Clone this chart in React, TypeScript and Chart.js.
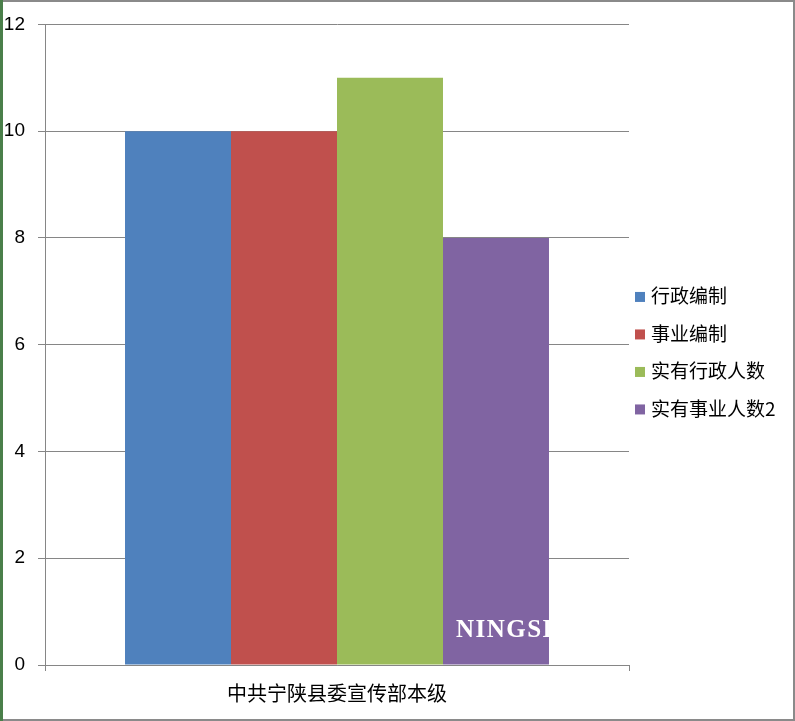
import React, { useEffect, useRef } from "react";
import { Chart, registerables } from "chart.js";

Chart.register(...registerables);

const categories = ["中共宁陕县委宣传部本级"];
const seriesNames = ["行政编制", "事业编制", "实有行政人数", "实有事业人数2"];
const seriesValues = [[10], [10], [11], [8]];
const seriesColors = ["#4F81BD", "#C0504D", "#9BBB59", "#8064A2"];
const yMin = 0;
const yMax = 12;
const yStep = 2;
const watermark = "NINGSHAN";

const W = 795;
const H = 721;

export default function App() {
  const ref = useRef<HTMLCanvasElement | null>(null);

  useEffect(() => {
    const canvas = ref.current;
    if (!canvas) return;

    const legendPlugin = {
      id: "customLegend",
      afterDraw(chart: any) {
        const ctx = chart.ctx;
        const ca = chart.chartArea;
        const mid = (ca.top + ca.bottom) / 2 + 8.5;
        const spacing = 37.5;
        const n = seriesNames.length;
        ctx.save();
        ctx.font = '19px "Noto Sans CJK SC", sans-serif';
        ctx.textBaseline = "middle";
        ctx.textAlign = "left";
        for (let i = 0; i < n; i++) {
          const cy = mid + (i - (n - 1) / 2) * spacing;
          ctx.fillStyle = seriesColors[i];
          ctx.fillRect(ca.right + 6, cy - 5, 10, 10);
          ctx.fillStyle = "#000";
          ctx.fillText(seriesNames[i], ca.right + 22, cy - 1);
        }
        ctx.restore();
      },
    };

    const watermarkPlugin = {
      id: "watermark",
      afterDatasetsDraw(chart: any) {
        const meta = chart.getDatasetMeta(seriesNames.length - 1);
        const el = meta.data[0];
        if (!el) return;
        const { x, y, base, width } = el.getProps(["x", "y", "base", "width"], true);
        const left = x - width / 2;
        const ctx = chart.ctx;
        ctx.save();
        ctx.beginPath();
        ctx.rect(left, y, width, base - y);
        ctx.clip();
        ctx.font = 'bold 25px "Liberation Serif", "DejaVu Serif", serif';
        try {
          (ctx as any).letterSpacing = "1.5px";
        } catch (e) {}
        ctx.fillStyle = "#fff";
        ctx.textBaseline = "alphabetic";
        ctx.textAlign = "left";
        ctx.fillText(watermark, left + 13, base - 28);
        ctx.restore();
      },
    };

    const chart = new Chart(canvas, {
      type: "bar",
      data: {
        labels: categories,
        datasets: seriesNames.map((name, i) => ({
          label: name,
          data: seriesValues[i],
          backgroundColor: seriesColors[i],
          borderWidth: 0,
          barPercentage: 1,
          categoryPercentage: 0.726,
        })),
      },
      options: {
        responsive: false,
        animation: false,
        devicePixelRatio: 1,
        layout: { padding: { top: 22, right: 166, bottom: 0, left: 0 } },
        plugins: {
          legend: { display: false },
          tooltip: { enabled: false },
        },
        scales: {
          x: {
            grid: {
              display: true,
              drawOnChartArea: false,
              drawTicks: true,
              tickLength: 6,
              color: "#868686",
              offset: true,
            },
            border: { display: true, color: "#868686" },
            ticks: {
              color: "#000",
              padding: 10,
              font: { family: '"Noto Sans CJK SC", sans-serif', size: 20 },
            },
            afterFit: (scale: any) => {
              scale.height = 56;
            },
          },
          y: {
            min: yMin,
            max: yMax,
            ticks: {
              stepSize: yStep,
              color: "#000",
              padding: 13,
              font: { family: '"Liberation Sans", "DejaVu Sans", sans-serif', size: 19 },
            },
            grid: {
              color: "#868686",
              tickLength: 7,
              drawTicks: true,
            },
            border: { display: true, color: "#868686" },
            afterFit: (scale: any) => {
              scale.width = 45;
            },
          },
        },
      },
      plugins: [legendPlugin, watermarkPlugin],
    });

    return () => chart.destroy();
  }, []);

  return (
    <div style={{ position: "fixed", left: 0, top: 0, width: W, height: H, background: "#fff" }}>
      <canvas ref={ref} width={W} height={H} style={{ position: "absolute", left: 0, top: 0, width: W, height: H }} />
      <div style={{ position: "absolute", left: 0, top: 0, width: W, height: 2, background: "#8A8A8A" }} />
      <div style={{ position: "absolute", left: 0, top: H - 2, width: W, height: 2, background: "#8A8A8A" }} />
      <div style={{ position: "absolute", left: W - 2, top: 0, width: 2, height: H, background: "#8A8A8A" }} />
      <div style={{ position: "absolute", left: 0, top: 0, width: 3, height: H, background: "#4A7F4A" }} />
    </div>
  );
}
